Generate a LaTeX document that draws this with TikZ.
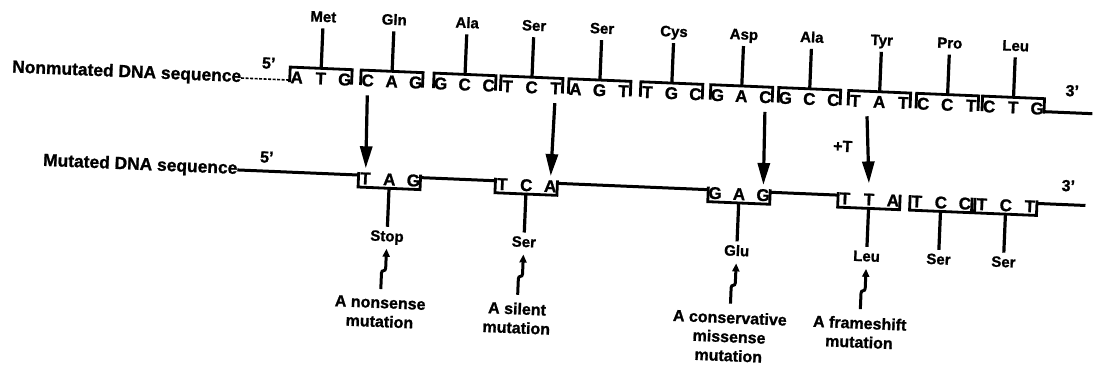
\documentclass[tikz,border=0pt]{standalone}
\usepackage{fontspec}
\setmainfont{Liberation Sans}[BoldFont={Liberation Sans Bold}]
\newfontfamily\labelfont{Liberation Sans Bold}[FakeBold=1.2]
\usetikzlibrary{arrows.meta}
\begin{document}
\begin{tikzpicture}[x=1pt,y=-1pt,
  every node/.style={inner sep=0pt,outer sep=0pt},
  seqlabel/.style={font=\labelfont\fontsize{17.4}{19}\selectfont,text height=12pt,text depth=4pt},
  baseletter/.style={font=\labelfont\fontsize{17}{19}\selectfont,text height=12pt,text depth=0pt},
  acid/.style={font=\labelfont\fontsize{15}{17}\selectfont,text height=11pt,text depth=3.5pt},
  endlabel/.style={font=\labelfont\fontsize{16}{18}\selectfont},
  mutnote/.style={font=\labelfont\fontsize{16}{19}\selectfont,align=center,anchor=north},
  strandline/.style={line width=3pt},
  dashstrand/.style={line width=1.6pt,dash pattern=on 3pt off 1.5pt},
  codonbr/.style={line width=2.8pt},
  aastem/.style={line width=3.2pt},
  pointmut/.style={line width=3.2pt,-{Triangle[length=22pt,width=12pt]},shorten <=9pt,shorten >=4pt},
  squig/.style={line width=3pt,-{Triangle[length=8pt,width=7pt]},shorten >=4pt},
]
\useasboundingbox (0,0) rectangle (1095,365);
\begin{scope}[rotate around={-2.4:(550,135)},transform shape]

% ---- nonmutated strand: codons with their amino acids above
\foreach \n/\cx/\p/\q/\r/\aa in {1/318.6/A/T/G/Met, 2/389.6/C/A/G/Gln, 3/462.6/G/C/C/Ala,
    4/529.6/T/C/T/Ser, 5/597.6/A/G/T/Ser, 6/669.6/T/G/C/Cys, 7/739.6/G/A/C/Asp,
    8/807.6/G/C/C/Ala, 9/877.6/T/A/T/Tyr, 10/945.6/C/C/T/Pro, 11/1011.6/C/T/G/Leu}{
  \draw[codonbr] (\cx-31,93) -- (\cx-31,78) -- (\cx+31,78) -- (\cx+31,93);
  \coordinate (tL\n) at (\cx-31,91);
  \coordinate (tR\n) at (\cx+31,91);
  \coordinate (tc\n) at (\cx,78);
  \node[baseletter] (t\n-1) at (\cx-24,88) {\p};
  \node[baseletter] (t\n-2) at (\cx,88) {\q};
  \node[baseletter] (t\n-3) at (\cx+24,88) {\r};
  \node[acid,anchor=south] (ta\n) at (\cx,35) {\aa};
  \draw[aastem,shorten >=3pt] (tc\n) -- (ta\n.south);
}

% ---- mutated strand: codons with their amino acids below
\foreach \n/\cx/\p/\q/\r/\aa in {1/391.4/T/A/G/Stop, 2/528.4/T/C/A/Ser, 3/741.4/G/A/G/Glu,
    4/871.4/T/T/A/Leu, 5/943.4/T/C/C/Ser, 6/1008.4/T/C/T/Ser}{
  \draw[codonbr] (\cx-31,180) -- (\cx-31,195) -- (\cx+31,195) -- (\cx+31,180);
  \coordinate (bL\n) at (\cx-31,183);
  \coordinate (bR\n) at (\cx+31,183);
  \coordinate (bc\n) at (\cx,195);
  \node[baseletter] (b\n-1) at (\cx-24,186) {\p};
  \node[baseletter] (b\n-2) at (\cx,186) {\q};
  \node[baseletter] (b\n-3) at (\cx+24,186) {\r};
  \node[acid,anchor=north] (ba\n) at (\cx,237) {\aa};
  \draw[aastem,shorten >=3.5pt] (bc\n) -- (ba\n.north);
}

% ---- strand labels, ends and backbone lines
\node[seqlabel,anchor=east] (nm) at (239,91) {Nonmutated DNA sequence};
\node[seqlabel,anchor=east] (md) at (239,183) {Mutated DNA sequence};
\node[endlabel] (p5top) at (266,75) {5’};
\node[endlabel] (p5bot) at (268,169) {5’};
\node[endlabel] (p3top) at (1070,69) {3’};
\node[endlabel] (p3bot) at (1070,164) {3’};
\coordinate (topend) at (1091,91);
\coordinate (botend) at (1088,183);

\draw[dashstrand] (nm.east) -- (tL1);
\draw[strandline] (tR11) -- (topend);
\draw[strandline] (md.east) -- (bL1);
\draw[strandline] (bR1) -- (bL2);
\draw[strandline] (bR2) -- (bL3);
\draw[strandline] (bR3) -- (bL4);
\draw[strandline] (bR6) -- (botend);

% ---- base changes
\draw[pointmut] (t2-1.south) -- (b1-1.north);
\draw[pointmut] (t4-3.south) -- (b2-3.north);
\draw[pointmut] (t7-3.south) -- (b3-3.north);
\node[endlabel] (plusT) at (843,134) {+T};
\coordinate (ins) at (866,103);
\draw[pointmut,shorten <=0pt,shorten >=10pt] (ins) -- (b4-2.north);

% ---- kinds of mutation
\node[mutnote] (m1) at (387.4,304) {A nonsense\\mutation};
\node[mutnote] (m2) at (524.4,304) {A silent\\mutation};
\node[mutnote] (m3) at (737.4,304) {A conservative\\missense\\mutation};
\node[mutnote] (m4) at (867.4,304) {A frameshift\\mutation};

\foreach \k in {1,2,3,4}{
  \draw[squig] ([yshift=8pt]m\k.north) -- ++(0,-16)
    .. controls +(0,-4) and +(0,4) .. ++(4,-5) -- (ba\k.south);
}
\end{scope}
\end{tikzpicture}
\end{document}
